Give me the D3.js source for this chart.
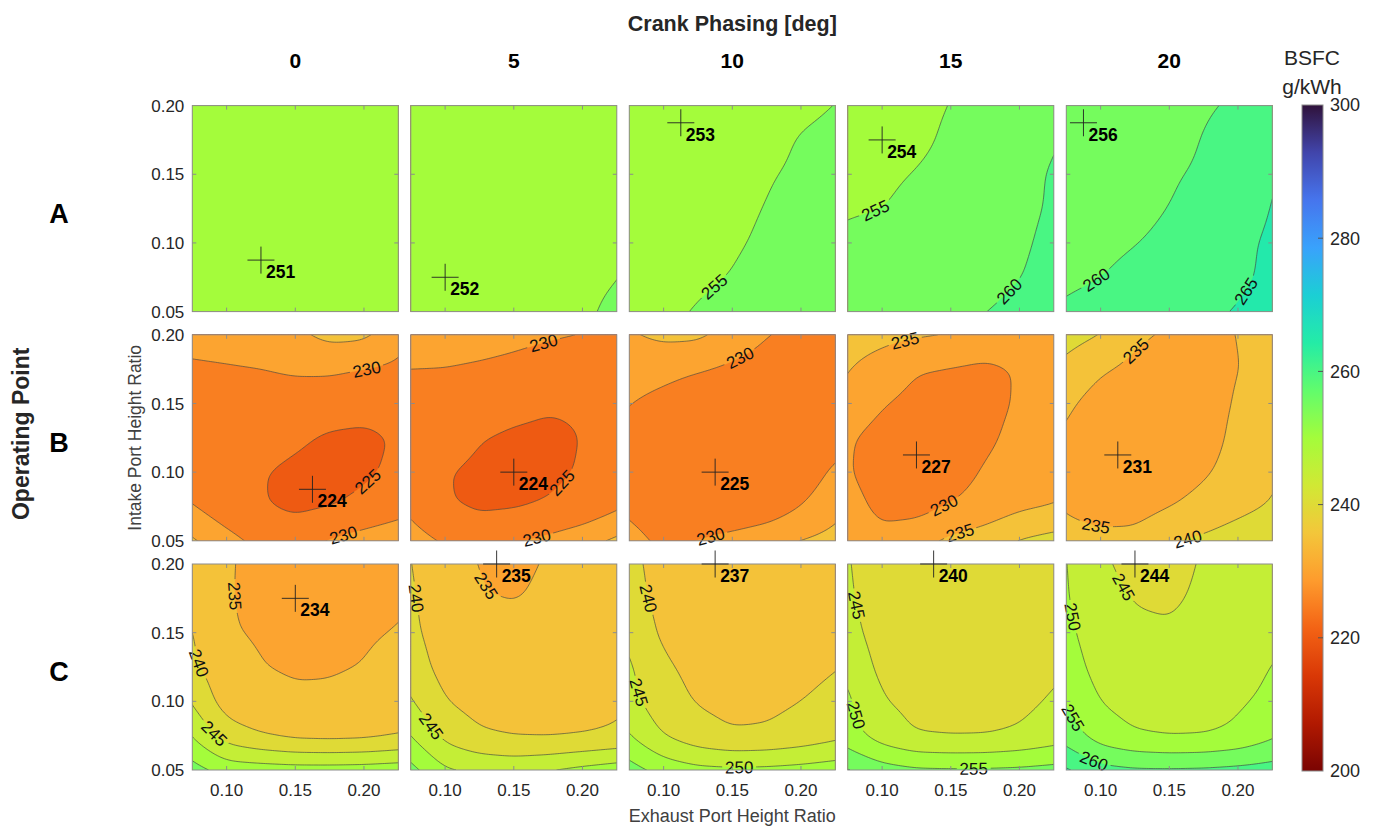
<!DOCTYPE html>
<html>
<head>
<meta charset="utf-8">
<script src="https://cdn.jsdelivr.net/npm/d3@7"></script>
<style>
body { margin: 0; background: #fff; }
svg text { font-family: "Liberation Sans", Arial, Helvetica, sans-serif; }
</style>
</head>
<body>
<div id="chart"></div>
<script>
// columns / rows of the panel grid
var crankPhasing = [0, 5, 10, 15, 20];
var operatingPoints = ["A", "B", "C"];

// grid nodes of every panel
var exhaustNodes = [0.075, 0.1, 0.125, 0.15, 0.175, 0.2, 0.225];
var intakeNodes = [0.05, 0.075, 0.1, 0.125, 0.15, 0.175, 0.2];

var xTicks = [0.10, 0.15, 0.20];
var yTicks = [0.05, 0.10, 0.15, 0.20];
var barTicks = [200, 220, 240, 260, 280, 300];
var levels = d3.range(200, 300, 5);

// BSFC [g/kWh], first row = intake 0.05, last row = intake 0.20
var bsfcA0 = [
    [251.8, 251.4, 251.3, 251.5, 252.0, 252.8, 253.8],
    [251.5, 251.1, 251.0, 251.2, 251.7, 252.5, 253.5],
    [251.5, 251.1, 251.0, 251.2, 251.7, 252.4, 253.3],
    [251.8, 251.4, 251.3, 251.5, 251.9, 252.5, 253.3],
    [252.2, 251.9, 251.8, 251.9, 252.2, 252.7, 253.4],
    [252.8, 252.5, 252.4, 252.5, 252.7, 253.1, 253.7],
    [253.5, 253.2, 253.1, 253.1, 253.3, 253.6, 254.1]];
var bsfcA1 = [
    [252.4, 252.1, 252.3, 252.8, 253.5, 254.4, 255.8],
    [252.3, 252.0, 252.2, 252.6, 253.3, 254.1, 254.9],
    [252.4, 252.1, 252.3, 252.6, 253.1, 253.8, 254.6],
    [252.7, 252.4, 252.5, 252.7, 253.1, 253.6, 254.3],
    [253.0, 252.7, 252.7, 252.9, 253.2, 253.6, 254.1],
    [253.3, 253.0, 253.0, 253.1, 253.3, 253.6, 254.0],
    [253.6, 253.3, 253.2, 253.3, 253.4, 253.6, 253.9]];
var bsfcA2 = [
    [254.0, 254.4, 255.2, 256.0, 256.9, 257.8, 258.7],
    [253.7, 254.0, 254.5, 255.1, 255.9, 256.8, 257.7],
    [253.5, 253.7, 254.1, 254.7, 255.4, 256.2, 257.1],
    [253.4, 253.5, 253.8, 254.4, 255.1, 255.8, 256.6],
    [253.3, 253.3, 253.5, 254.0, 254.8, 255.4, 256.1],
    [253.2, 253.1, 253.2, 253.6, 254.2, 255.2, 255.7],
    [253.3, 253.1, 253.1, 253.3, 253.8, 254.4, 255.05]];
var bsfcA3 = [
    [256.5, 257.0, 257.8, 258.8, 259.95, 261.0, 262.0],
    [256.0, 256.4, 257.0, 257.8, 258.7, 259.9, 261.2],
    [255.4, 255.8, 256.4, 257.1, 258.0, 259.5, 260.8],
    [254.8, 254.95, 255.6, 256.3, 257.3, 259.2, 260.4],
    [254.4, 254.6, 255.1, 255.8, 256.8, 258.5, 260.5],
    [254.1, 254.0, 254.5, 255.4, 256.2, 257.8, 259.6],
    [254.3, 254.1, 254.4, 255.05, 255.9, 257.3, 259.0]];
var bsfcA4 = [
    [260.4, 261.0, 261.8, 262.8, 264.1, 265.3, 266.3],
    [259.5, 259.95, 260.8, 261.7, 262.8, 264.3, 265.8],
    [258.8, 259.3, 259.9, 260.8, 261.9, 263.9, 265.8],
    [258.0, 258.4, 259.0, 260.1, 261.0, 262.6, 265.2],
    [257.2, 257.5, 258.1, 259.6, 260.6, 261.8, 264.5],
    [256.5, 256.2, 256.9, 258.2, 260.3, 261.3, 263.2],
    [256.6, 256.2, 256.6, 257.6, 259.6, 260.5, 262.4]];

var bsfcB0 = [
    [235.6, 231.6, 228.5, 227.6, 230.3, 232.0, 233.5],
    [230.1, 227.0, 225.2, 224.1, 224.6, 226.0, 227.8],
    [227.0, 226.2, 225.15, 224.3, 223.8, 224.3, 225.9],
    [227.6, 227.2, 226.6, 225.6, 224.4, 224.2, 225.3],
    [228.2, 228.0, 227.9, 227.8, 227.2, 226.5, 226.8],
    [229.3, 229.6, 229.9, 230.6, 230.7, 229.8, 229.2],
    [231.6, 232.0, 232.8, 233.8, 236.4, 236.0, 231.5]];
var bsfcB1 = [
    [232.0, 229.4, 227.0, 229.6, 231.0, 233.0, 235.9],
    [228.8, 225.2, 224.5, 224.4, 225.3, 226.5, 229.0],
    [227.4, 225.12, 224.3, 224.0, 224.2, 225.3, 227.0],
    [228.0, 227.0, 225.1, 224.4, 224.2, 225.05, 226.4],
    [228.6, 228.0, 227.2, 226.2, 225.4, 225.5, 226.6],
    [229.9, 229.9, 229.5, 229.0, 228.3, 227.8, 227.6],
    [232.3, 232.0, 231.6, 231.0, 230.4, 229.9, 229.0]];
var bsfcB2 = [
    [231.5, 229.0, 230.05, 231.6, 233.2, 235.1, 236.5],
    [229.0, 227.2, 226.0, 225.8, 226.9, 229.95, 233.5],
    [228.6, 227.0, 225.8, 225.5, 225.6, 226.9, 231.0],
    [229.0, 227.8, 226.8, 226.1, 225.9, 226.1, 227.3],
    [230.05, 229.0, 228.0, 227.2, 226.6, 226.3, 226.6],
    [231.6, 231.0, 230.1, 229.2, 228.3, 227.6, 227.2],
    [234.4, 236.2, 236.0, 232.5, 230.1, 229.0, 228.0]];
var bsfcB3 = [
    [232.5, 231.0, 233.0, 236.0, 237.5, 240.2, 241.8],
    [231.5, 229.0, 228.3, 230.2, 232.0, 234.0, 234.8],
    [230.3, 228.0, 227.2, 227.8, 230.5, 232.3, 234.0],
    [230.5, 228.2, 227.3, 227.5, 229.0, 231.5, 233.5],
    [233.5, 230.3, 228.6, 228.0, 228.3, 230.6, 232.0],
    [235.2, 233.0, 230.2, 229.6, 229.0, 230.3, 231.5],
    [237.0, 236.3, 235.5, 234.7, 233.3, 232.8, 233.2]];
var bsfcB4 = [
    [236.5, 236.2, 236.5, 239.6, 240.8, 242.2, 243.5],
    [234.6, 233.2, 233.0, 234.8, 237.0, 238.8, 240.3],
    [233.8, 231.8, 231.2, 231.8, 234.3, 237.2, 239.4],
    [234.2, 232.0, 231.2, 231.5, 232.6, 236.5, 238.6],
    [235.8, 233.0, 232.0, 232.0, 232.6, 235.6, 237.8],
    [238.5, 235.5, 233.8, 233.0, 233.0, 234.95, 236.5],
    [242.0, 239.9, 235.8, 234.4, 234.0, 235.05, 236.8]];

var bsfcC0 = [
    [257.0, 252.8, 252.4, 252.0, 252.0, 252.2, 252.8],
    [249.6, 242.5, 239.95, 238.4, 238.1, 238.4, 239.5],
    [244.4, 237.5, 236.3, 235.6, 235.6, 236.2, 237.6],
    [240.8, 236.8, 235.05, 234.6, 234.7, 235.05, 236.0],
    [240.1, 235.3, 234.6, 234.3, 234.4, 234.7, 235.1],
    [238.2, 235.15, 234.3, 234.0, 234.1, 234.4, 234.75],
    [236.8, 235.12, 234.6, 234.2, 234.25, 234.5, 234.8]];
var bsfcC1 = [
    [256.5, 250.4, 249.0, 248.5, 249.6, 251.2, 252.5],
    [249.8, 243.5, 240.6, 239.6, 239.3, 239.7, 240.5],
    [245.3, 240.05, 238.2, 237.5, 237.6, 238.3, 239.4],
    [242.5, 238.2, 237.0, 236.4, 236.5, 237.2, 238.3],
    [241.0, 237.7, 236.0, 235.6, 235.8, 236.6, 237.8],
    [240.6, 237.0, 235.1, 234.9, 235.3, 236.3, 237.5],
    [240.1, 236.5, 234.8, 234.7, 235.1, 236.0, 237.2]];
var bsfcC2 = [
    [257.0, 253.0, 251.2, 250.8, 251.0, 251.6, 252.5],
    [250.05, 244.8, 241.8, 240.3, 240.6, 241.8, 243.5],
    [246.6, 241.8, 239.6, 238.8, 239.0, 239.95, 241.2],
    [245.6, 240.6, 238.8, 238.2, 238.3, 238.8, 239.8],
    [243.5, 239.0, 238.0, 237.5, 237.6, 238.0, 238.8],
    [241.5, 238.7, 237.5, 237.1, 237.3, 237.7, 238.3],
    [241.0, 238.5, 237.4, 237.0, 237.2, 237.6, 238.2]];
var bsfcC3 = [
    [260.2, 257.0, 255.6, 255.4, 255.5, 255.8, 256.5],
    [252.0, 247.5, 244.9, 244.5, 244.6, 245.6, 247.3],
    [250.8, 245.2, 243.8, 243.0, 243.1, 243.9, 245.5],
    [248.5, 243.7, 242.6, 242.0, 242.1, 242.9, 244.2],
    [246.5, 243.0, 241.8, 241.2, 241.4, 242.1, 243.0],
    [245.6, 242.7, 241.0, 240.5, 240.9, 241.7, 242.6],
    [245.3, 242.3, 240.4, 239.9, 240.5, 241.5, 242.4]];
var bsfcC4 = [
    [265.5, 261.5, 260.5, 260.4, 260.6, 261.2, 262.0],
    [257.5, 252.5, 250.3, 249.5, 249.7, 251.0, 254.0],
    [254.6, 249.8, 248.2, 247.5, 247.8, 249.3, 251.3],
    [252.6, 248.0, 246.6, 246.2, 246.6, 247.6, 250.2],
    [251.2, 247.0, 245.6, 245.3, 245.9, 246.7, 248.2],
    [250.4, 246.0, 244.8, 244.6, 245.5, 246.3, 247.7],
    [250.1, 245.4, 244.2, 244.0, 245.3, 246.0, 247.5]];

var bsfcGrids = [
    [bsfcA0, bsfcA1, bsfcA2, bsfcA3, bsfcA4],
    [bsfcB0, bsfcB1, bsfcB2, bsfcB3, bsfcB4],
    [bsfcC0, bsfcC1, bsfcC2, bsfcC3, bsfcC4]];

// optimum (+ marker) of every panel
var optExhaust = [[0.125, 0.1, 0.1125, 0.1, 0.0875], [0.1625, 0.15, 0.1375, 0.125, 0.1125], [0.15, 0.1375, 0.1375, 0.1375, 0.125]];
var optIntake = [[0.0875, 0.075, 0.1875, 0.175, 0.1875], [0.0875, 0.1, 0.1, 0.1125, 0.1125], [0.175, 0.2, 0.2, 0.2, 0.2]];
var optBsfc = [[251, 252, 253, 254, 256], [224, 224, 225, 227, 231], [234, 235, 237, 240, 244]];

// inline contour labels: [level, exhaust, intake]
var contourLabels = [
    [[], [], [[255, 0.141, 0.0634]], [[255, 0.096, 0.1217], [260, 0.193, 0.0646]], [[260, 0.0983, 0.0718], [265, 0.205, 0.0658]]],
    [[[230, 0.202, 0.1767], [225, 0.2057, 0.09], [230, 0.185, 0.0549]],
     [[230, 0.1727, 0.1933], [225, 0.1837, 0.0937], [230, 0.1667, 0.0554]],
     [[230, 0.1525, 0.1896], [230, 0.1341, 0.0549]],
     [[235, 0.1175, 0.1896], [230, 0.1467, 0.0731], [235, 0.1574, 0.0554]],
     [[235, 0.127, 0.1872], [235, 0.0963, 0.0598], [240, 0.1622, 0.0554]]],
    [[[235, 0.1012, 0.1756], [240, 0.0782, 0.127], [245, 0.0879, 0.0736]],
     [[240, 0.0768, 0.1743], [235, 0.1254, 0.1804], [245, 0.0853, 0.0784]],
     [[240, 0.0867, 0.1743], [245, 0.0805, 0.1064], [250, 0.1556, 0.0517]],
     [[245, 0.0792, 0.1694], [250, 0.0808, 0.0906], [255, 0.1666, 0.0517]],
     [[245, 0.1132, 0.1804], [250, 0.0794, 0.1622], [255, 0.0794, 0.0869], [260, 0.0933, 0.0517]]]];

var turboStops = ["#30123b", "#4145ab", "#4675ed", "#39a2fc", "#1bcfd4", "#24eca6", "#61fc6c", "#a4fc3b",
    "#d1e834", "#f3c63a", "#fe9b2d", "#f36315", "#d93806", "#b11901", "#7a0402"];
var turbo = d3.piecewise(d3.interpolateRgb, turboStops);
function bandColor(v) { return turbo((300 - v) / 100); }

var width = 1377, height = 826;
var left0 = 192.3, top0 = 105.6, pw = 206, ph = 206, stepX = 218.5, stepY = 229.2;

var svg = d3.select("#chart").append("svg")
    .attr("width", width)
    .attr("height", height);
var defs = svg.append("defs");

var xScale = d3.scaleLinear().domain([0.075, 0.225]).range([0, pw]);
var yScale = d3.scaleLinear().domain([0.05, 0.2]).range([ph, 0]);

// bilinear value between grid nodes (u, v in node units), extrapolates past the edges
function sampleGrid(g, u, v) {
    var i = Math.max(0, Math.min(Math.floor(u), 5)), j = Math.max(0, Math.min(Math.floor(v), 5));
    var tx = u - i, ty = v - j;
    var a = g[j][i] * (1 - tx) + g[j][i + 1] * tx;
    var b = g[j + 1][i] * (1 - tx) + g[j + 1][i + 1] * tx;
    return a * (1 - ty) + b * ty;
}

var n = 91, pad = 10, np = n + 2 * pad;
function gridX(gx) { return (gx - 0.5) / (n - 1) * pw; }
function gridY(gy) { return (gy - 0.5) / (n - 1) * ph; }
var path = d3.geoPath(d3.geoTransform({
    point: function (x, y) { this.stream.point(gridX(x), gridY(y)); }
}));

operatingPoints.forEach(function (op, r) {
    crankPhasing.forEach(function (cp, c) {
        var grid = bsfcGrids[r][c];
        var id = op + c;
        var g = svg.append("g")
            .attr("transform", "translate(" + (left0 + c * stepX) + "," + (top0 + r * stepY) + ")");

        // padded fine grid, blurred to round the cell corners, then cropped
        var big = new Float64Array(np * np);
        for (var rr = 0; rr < np; rr++) {
            for (var cc = 0; cc < np; cc++) {
                big[rr * np + cc] = sampleGrid(grid, (cc - pad) / (n - 1) * 6, (n - 1 - (rr - pad)) / (n - 1) * 6);
            }
        }
        d3.blur2({ data: big, width: np, height: np }, 3);
        var values = new Array(n * n);
        for (var r2 = 0; r2 < n; r2++) {
            for (var c2 = 0; c2 < n; c2++) values[r2 * n + c2] = big[(r2 + pad) * np + c2 + pad];
        }
        var contours = d3.contours().size([n, n]).thresholds(levels)(values);

        defs.append("clipPath").attr("id", "clip" + id)
            .append("rect").attr("width", pw).attr("height", ph);

        g.append("g").attr("clip-path", "url(#clip" + id + ")")
            .selectAll("path").data(contours).enter().append("path")
            .attr("d", path)
            .attr("fill", function (d) { return bandColor(d.value); })
            .attr("stroke", function (d) { return bandColor(d.value); })
            .attr("stroke-width", 0.3);

        // label positions snapped onto their contour line
        var placed = [];
        contourLabels[r][c].forEach(function (lab) {
            var cont = contours.filter(function (d) { return d.value === lab[0]; })[0];
            var tx = xScale(lab[1]), ty = yScale(lab[2]);
            var best = null, bestD = Infinity;
            cont.coordinates.forEach(function (poly) {
                poly.forEach(function (ring) {
                    for (var k = 0; k < ring.length - 1; k++) {
                        var px = gridX(ring[k][0]), py = gridY(ring[k][1]);
                        if (px < 1 || px > pw - 1 || py < 1 || py > ph - 1) continue;
                        var dd = (px - tx) * (px - tx) + (py - ty) * (py - ty);
                        if (dd < bestD) { bestD = dd; best = { ring: ring, k: k, x: px, y: py }; }
                    }
                });
            });
            if (!best) return;
            var m = best.ring.length - 1;
            var a = best.ring[(best.k - 2 + m) % m], b = best.ring[(best.k + 2) % m];
            var ang = Math.atan2(gridY(b[1]) - gridY(a[1]), gridX(b[0]) - gridX(a[0])) * 180 / Math.PI;
            if (ang > 90) ang -= 180;
            if (ang <= -90) ang += 180;
            placed.push({ x: best.x, y: best.y, a: ang, t: lab[0] });
        });

        var mask = defs.append("mask").attr("id", "mask" + id)
            .attr("maskUnits", "userSpaceOnUse")
            .attr("x", -10).attr("y", -10).attr("width", pw + 20).attr("height", ph + 20);
        mask.append("rect").attr("x", -10).attr("y", -10).attr("width", pw + 20).attr("height", ph + 20).attr("fill", "#fff");
        placed.forEach(function (p) {
            mask.append("rect")
                .attr("x", -17).attr("y", -7).attr("width", 34).attr("height", 14)
                .attr("fill", "#000")
                .attr("transform", "translate(" + p.x + "," + p.y + ") rotate(" + p.a + ")");
        });

        g.append("g").attr("clip-path", "url(#clip" + id + ")")
            .append("g").attr("mask", "url(#mask" + id + ")")
            .selectAll("path").data(contours).enter().append("path")
            .attr("d", path)
            .attr("fill", "none")
            .attr("stroke", "#444")
            .attr("stroke-width", 0.65);

        g.selectAll("text.clabel").data(placed).enter().append("text")
            .attr("class", "clabel")
            .attr("transform", function (p) { return "translate(" + p.x + "," + p.y + ") rotate(" + p.a + ")"; })
            .attr("text-anchor", "middle")
            .attr("dy", "0.36em")
            .style("font-size", "17px")
            .style("fill", "#111")
            .text(function (p) { return p.t; });

        // frame and inward ticks
        g.append("rect").attr("width", pw).attr("height", ph)
            .attr("fill", "none").attr("stroke", "#8c8c8c").attr("stroke-width", 1);
        [0.10, 0.15, 0.20].forEach(function (t) {
            g.append("line").attr("x1", xScale(t)).attr("x2", xScale(t)).attr("y1", ph).attr("y2", ph - 4).attr("stroke", "#8c8c8c");
            g.append("line").attr("x1", xScale(t)).attr("x2", xScale(t)).attr("y1", 0).attr("y2", 4).attr("stroke", "#8c8c8c");
        });
        [0.10, 0.15].forEach(function (t) {
            g.append("line").attr("y1", yScale(t)).attr("y2", yScale(t)).attr("x1", 0).attr("x2", 4).attr("stroke", "#8c8c8c");
            g.append("line").attr("y1", yScale(t)).attr("y2", yScale(t)).attr("x1", pw).attr("x2", pw - 4).attr("stroke", "#8c8c8c");
        });

        if (c === 0) {
            g.selectAll("text.ytick").data(yTicks).enter().append("text")
                .attr("class", "ytick")
                .attr("x", -8).attr("y", function (d) { return yScale(d); })
                .attr("dy", "0.36em").attr("text-anchor", "end")
                .style("font-size", "17px").style("fill", "#262626")
                .text(function (d) { return d3.format(".2f")(d); });
        }
        if (r === 2) {
            g.selectAll("text.xtick").data(xTicks).enter().append("text")
                .attr("class", "xtick")
                .attr("x", function (d) { return xScale(d); }).attr("y", ph + 26)
                .attr("text-anchor", "middle")
                .style("font-size", "17px").style("fill", "#262626")
                .text(function (d) { return d3.format(".2f")(d); });
        }

        // optimum marker
        var mx = xScale(optExhaust[r][c]), my = yScale(optIntake[r][c]);
        g.append("line").attr("x1", mx - 13.5).attr("x2", mx + 13.5).attr("y1", my).attr("y2", my)
            .attr("stroke", "#222").attr("stroke-width", 0.9);
        g.append("line").attr("x1", mx).attr("x2", mx).attr("y1", my - 13.5).attr("y2", my + 13.5)
            .attr("stroke", "#222").attr("stroke-width", 0.9);
        g.append("text").attr("x", mx + 5).attr("y", my + 18)
            .style("font-size", "17.5px").style("font-weight", "bold").style("fill", "#000")
            .text(optBsfc[r][c]);
    });
});

// titles
svg.append("text").attr("x", left0 + 2 * stepX + pw / 2).attr("y", 31)
    .attr("text-anchor", "middle")
    .style("font-size", "21.5px").style("font-weight", "bold").style("fill", "#262626")
    .text("Crank Phasing [deg]");
svg.selectAll("text.colhead").data(crankPhasing).enter().append("text")
    .attr("class", "colhead")
    .attr("x", function (d, i) { return left0 + i * stepX + pw / 2; }).attr("y", 68)
    .attr("text-anchor", "middle")
    .style("font-size", "21px").style("font-weight", "bold").style("fill", "#000")
    .text(function (d) { return d; });
svg.selectAll("text.rowhead").data(operatingPoints).enter().append("text")
    .attr("class", "rowhead")
    .attr("x", 59).attr("y", function (d, i) { return top0 + i * stepY + ph / 2 + 14; })
    .attr("text-anchor", "middle")
    .style("font-size", "27px").style("font-weight", "bold").style("fill", "#000")
    .text(function (d) { return d; });
svg.append("text").attr("transform", "translate(29," + (top0 + stepY + ph / 2 - 4) + ") rotate(-90)")
    .attr("text-anchor", "middle")
    .style("font-size", "23px").style("font-weight", "bold").style("fill", "#262626")
    .text("Operating Point");
svg.append("text").attr("transform", "translate(141," + (top0 + stepY + ph / 2) + ") rotate(-90)")
    .attr("text-anchor", "middle")
    .style("font-size", "17.5px").style("fill", "#404040")
    .text("Intake Port Height Ratio");
svg.append("text").attr("x", left0 + 2 * stepX + pw / 2).attr("y", 822)
    .attr("text-anchor", "middle")
    .style("font-size", "18px").style("fill", "#404040")
    .text("Exhaust Port Height Ratio");

// colour bar
var barX = 1302, barW = 21, barTop = 105, barBottom = 771;
var barScale = d3.scaleLinear().domain([200, 300]).range([barBottom, barTop]);
var grad = defs.append("linearGradient").attr("id", "bargrad")
    .attr("x1", 0).attr("y1", 0).attr("x2", 0).attr("y2", 1);
d3.range(0, 57).forEach(function (k) {
    grad.append("stop").attr("offset", k / 56).attr("stop-color", turbo(k / 56));
});
svg.append("rect").attr("x", barX).attr("y", barTop).attr("width", barW).attr("height", barBottom - barTop)
    .attr("fill", "url(#bargrad)").attr("stroke", "#8c8c8c").attr("stroke-width", 1);
barTicks.forEach(function (t) {
    if (t > 200 && t < 300) {
        svg.append("line").attr("x1", barX + barW - 5).attr("x2", barX + barW)
            .attr("y1", barScale(t)).attr("y2", barScale(t)).attr("stroke", "#555");
    }
    svg.append("text").attr("x", barX + barW + 7).attr("y", barScale(t)).attr("dy", "0.36em")
        .style("font-size", "18px").style("fill", "#262626").text(t);
});
svg.append("text").attr("x", 1312).attr("y", 65).attr("text-anchor", "middle")
    .style("font-size", "21px").style("fill", "#262626").text("BSFC");
svg.append("text").attr("x", 1312).attr("y", 94).attr("text-anchor", "middle")
    .style("font-size", "21px").style("fill", "#262626").text("g/kWh");
</script>
</body>
</html>
